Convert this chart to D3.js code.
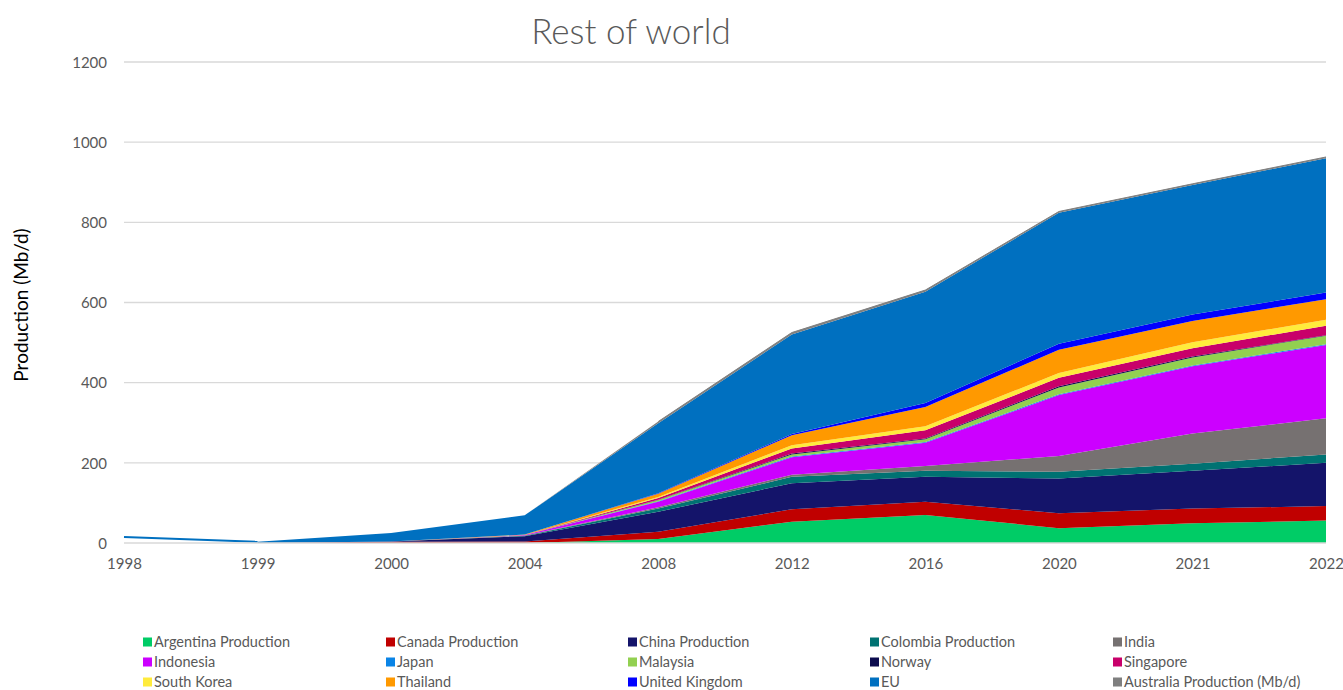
<!DOCTYPE html>
<html>
<head>
<meta charset="utf-8">
<script src="https://cdn.jsdelivr.net/npm/d3@7"></script>
<style>
  body { margin: 0; background: #fff; }
  svg text { font-family: Lato, "Open Sans", "Noto Sans", sans-serif; }
</style>
</head>
<body>
<svg id="chart" width="1343" height="690"></svg>
<script>
// Categories (x axis)
const years = ["1998", "1999", "2000", "2004", "2008", "2012", "2016", "2020", "2021", "2022"];

// Production by source, Mb/d (stacked bottom to top in this order)
const argentina     = [0, 0, 0, 0, 10, 53, 70, 37, 49, 56];
const canada        = [0, 0, 3, 4, 18, 31, 33, 37, 37, 36];
const china         = [0, 0, 1, 13, 50, 65, 62, 87, 94, 108];
const colombia      = [0, 0, 0, 1, 8, 16, 15, 17, 18, 21];
const india         = [0, 0, 0, 1, 3, 5, 12, 39, 75, 90];
const indonesia     = [0, 0, 0, 1, 14, 44, 58, 152, 168, 183];
const japan         = [0, 0, 0, 0, 1, 2, 2, 2, 2, 2];
const malaysia      = [0, 0, 0, 0, 3, 5, 7, 17, 20, 21];
const norway        = [0, 0, 0, 0, 1, 2, 2, 3, 2, 1];
const singapore     = [0, 0, 0, 0, 4, 13, 20, 21, 21, 24];
const southKorea    = [0, 0, 0, 0, 3, 8, 10, 12, 15, 15];
const thailand      = [0, 0, 0, 1, 8, 25, 48, 58, 53, 51];
const unitedKingdom = [0, 0, 0, 0, 1, 3, 10, 15, 16, 17];
const eu            = [15, 3, 21, 48, 175, 248, 278, 327, 323, 335];
const australia     = [0, 0, 0, 0, 4, 5, 4, 3, 3, 3];

const seriesNames = [
  "Argentina Production", "Canada Production", "China Production", "Colombia Production", "India",
  "Indonesia", "Japan", "Malaysia", "Norway", "Singapore",
  "South Korea", "Thailand", "United Kingdom", "EU", "Australia Production (Mb/d)"
];
const seriesValues = [
  argentina, canada, china, colombia, india,
  indonesia, japan, malaysia, norway, singapore,
  southKorea, thailand, unitedKingdom, eu, australia
];
const seriesColors = [
  "#00CC66", "#C00000", "#14146A", "#007272", "#767171",
  "#CC00FF", "#0A84E6", "#92D050", "#0C0C4E", "#C8006A",
  "#FFEB3C", "#FF9900", "#0000FF", "#0070C0", "#7F7F7F"
];

const yTicks = [0, 200, 400, 600, 800, 1000, 1200];

// Table for the stack layout: one row per year
const rows = years.map((yr, i) => {
  const r = { year: yr };
  seriesNames.forEach((n, k) => { r[n] = seriesValues[k][i]; });
  return r;
});

const svg = d3.select("#chart");
const x = d3.scalePoint().domain(years).range([124, 1326]);
const y = d3.scaleLinear().domain([0, 1200]).range([543, 62]);

// Gridlines
svg.append("g")
  .selectAll("line")
  .data(yTicks.filter(t => t > 0))
  .join("line")
  .attr("x1", x.range()[0]).attr("x2", x.range()[1])
  .attr("y1", d => y(d)).attr("y2", d => y(d))
  .attr("stroke", "#D9D9D9").attr("stroke-width", 1.3);

// Stacked areas
const stacked = d3.stack().keys(seriesNames)(rows);
const area = d3.area()
  .defined((d, i) => i >= 1)
  .x(d => x(d.data.year))
  .y0(d => y(d[0]))
  .y1(d => y(d[1]));

svg.append("g")
  .selectAll("path")
  .data(stacked)
  .join("path")
  .attr("d", area)
  .attr("fill", (d, i) => seriesColors[i]);

// 1998 carries a single reading, drawn as a lead-in line to the first stacked point
const stackTop = stacked[stacked.length - 1];
const euIdx = seriesNames.indexOf("EU");
svg.append("path")
  .datum(stackTop.slice(0, 2))
  .attr("d", d3.line().x(d => x(d.data.year)).y(d => y(d[1])))
  .attr("fill", "none")
  .attr("stroke", seriesColors[euIdx])
  .attr("stroke-width", 2);

// Thin outline along the top of the stack
svg.append("path")
  .datum(stackTop.filter((d, i) => i >= 4))
  .attr("d", d3.line().x(d => x(d.data.year)).y(d => y(d[1])))
  .attr("fill", "none")
  .attr("stroke", seriesColors[seriesColors.length - 1])
  .attr("stroke-width", 1);

// Zero line
svg.append("line")
  .attr("x1", x.range()[0]).attr("x2", x.range()[1])
  .attr("y1", y(0)).attr("y2", y(0))
  .attr("stroke", "#D9D9D9").attr("stroke-width", 1.5);

// Y axis labels
const yAxis = d3.axisLeft(y).tickValues(yTicks).tickFormat(d3.format("d")).tickSize(0).tickPadding(0);
svg.append("g")
  .attr("transform", "translate(107,0)")
  .call(yAxis)
  .call(g => g.select(".domain").remove())
  .call(g => g.selectAll("text")
    .attr("fill", "#595959").attr("font-size", 15).attr("dy", "0.35em")
    .style("font-family", "Lato, 'Open Sans', sans-serif"));

// X axis labels
const xAxis = d3.axisBottom(x).tickSize(0).tickPadding(0);
svg.append("g")
  .attr("transform", "translate(0,558)")
  .call(xAxis)
  .call(g => g.select(".domain").remove())
  .call(g => g.selectAll("text")
    .attr("fill", "#595959").attr("font-size", 15).attr("dy", "0.71em")
    .style("font-family", "Lato, 'Open Sans', sans-serif"));

// Title
svg.append("text")
  .attr("x", 631).attr("y", 44)
  .attr("text-anchor", "middle")
  .attr("font-size", 35)
  .attr("font-weight", 300)
  .attr("fill", "#595959")
  .text("Rest of world");

// Y axis title
svg.append("text")
  .attr("transform", "translate(28,305) rotate(-90)")
  .attr("text-anchor", "middle")
  .attr("font-size", 19)
  .attr("fill", "#000")
  .text("Production (Mb/d)");

// Legend: 5 columns x 3 rows
const legendCols = [143, 386, 628, 870, 1113];
const legendRows = [642, 662, 682];
const legend = svg.append("g")
  .selectAll("g")
  .data(seriesNames)
  .join("g")
  .attr("transform", (d, i) => `translate(${legendCols[i % 5]},${legendRows[Math.floor(i / 5)]})`);
legend.append("rect")
  .attr("x", 0).attr("y", -4.5).attr("width", 9).attr("height", 9)
  .attr("fill", (d, i) => seriesColors[i]);
legend.append("text")
  .attr("x", 11).attr("y", 0).attr("dy", "0.35em")
  .attr("font-size", 14.5)
  .attr("fill", "#595959")
  .text(d => d);
</script>
</body>
</html>
